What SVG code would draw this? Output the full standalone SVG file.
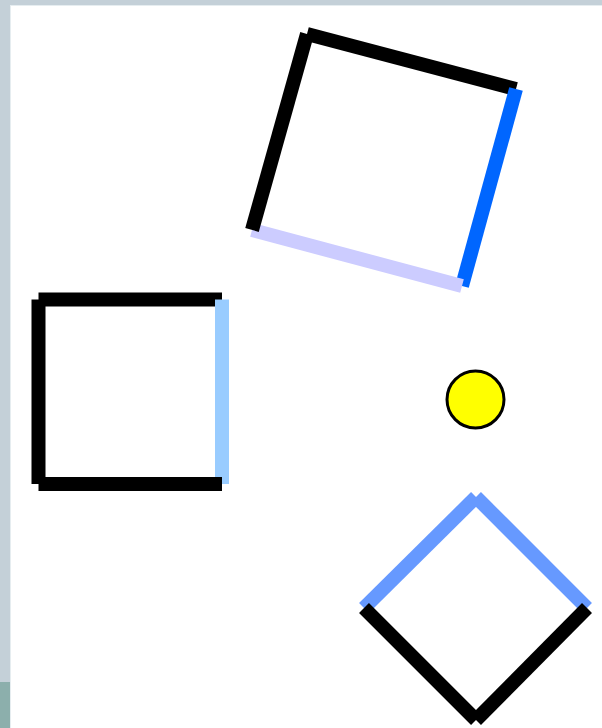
<svg xmlns="http://www.w3.org/2000/svg" width="602" height="728" viewBox="0 0 602 728">
<style>
.e{fill:none;stroke-width:14;stroke-linecap:butt}
.k{stroke:#000}
</style>
<rect x="0" y="0" width="602" height="728" fill="#c4d0d8"/>
<rect x="0" y="682" width="11" height="46" fill="#8cafac"/>
<rect x="10" y="5" width="592" height="723" fill="#e6edf0"/>
<rect x="11" y="6" width="591" height="722" fill="#ffffff"/>
<g id="square-left">
<line class="e k" x1="38.5" y1="299.5" x2="222" y2="299.5"/>
<line class="e" stroke="#99ccff" x1="222" y1="299.5" x2="222" y2="484"/>
<line class="e k" x1="222" y1="484" x2="38.5" y2="484"/>
<line class="e k" x1="38.5" y1="484" x2="38.5" y2="299.5"/>
</g>
<g id="square-rotated">
<line class="e k" x1="307" y1="34" x2="516" y2="89"/>
<line class="e" stroke="#0066ff" x1="516" y1="89" x2="462" y2="286"/>
<line class="e" stroke="#ccccff" x1="462" y1="286" x2="252" y2="230"/>
<line class="e k" x1="252" y1="230" x2="307" y2="34"/>
</g>
<g id="diamond">
<line class="e" stroke="#6699ff" x1="364" y1="608" x2="476" y2="497"/>
<line class="e" stroke="#6699ff" x1="476" y1="497" x2="587" y2="608"/>
<line class="e k" x1="587" y1="608" x2="476" y2="720"/>
<line class="e k" x1="476" y1="720" x2="364" y2="608"/>
</g>
<g id="circle">
<circle cx="475.5" cy="399.5" r="28.5" fill="#ffff00" stroke="#000" stroke-width="3"/>
</g>
</svg>
